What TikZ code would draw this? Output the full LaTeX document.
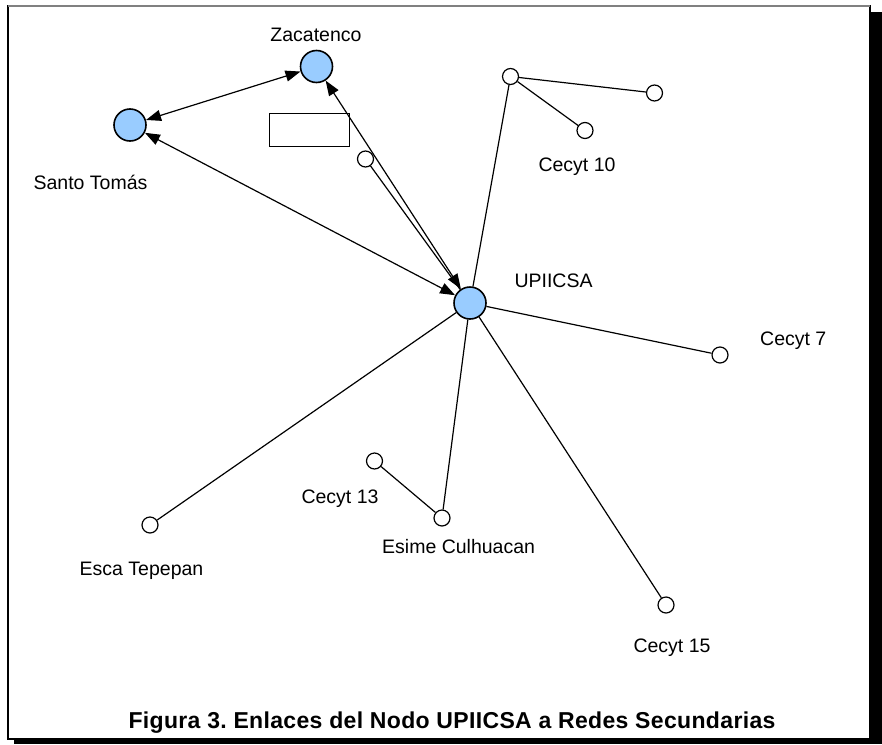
\documentclass[tikz,border=0pt]{standalone}
\usepackage{fontspec}
\setmainfont{Liberation Sans}
\newfontfamily\capfont{Liberation Sans}[LetterSpace=1.5]
\usetikzlibrary{arrows.meta}
\definecolor{nodeblue}{HTML}{99CCFF}
\frenchspacing
\begin{document}
\begin{tikzpicture}[x=1pt,y=-1pt,
  hubnode/.style={circle, draw=black, line width=1.6pt, fill=nodeblue, minimum size=32pt, inner sep=0pt},
  leafnode/.style={circle, draw=black, line width=1.2pt, fill=white, minimum size=16pt, inner sep=0pt},
  lbl/.style={font=\fontsize{19.5}{22}\selectfont, anchor=base, inner sep=0pt},
  link/.style={line width=1.2pt},
  dlink/.style={line width=1.2pt, {Triangle[length=15pt,width=11pt]}-{Triangle[length=15pt,width=11pt]}},
]
\useasboundingbox (0,0) rectangle (882,744);
% frame with shadow
\fill[black] (14,12) rectangle (882,744);
\draw[black, line width=1.5pt, fill=white] (8,6) rectangle (870,739);
\draw[gray, line width=1.5pt] (8,6) -- (870,6);

% nodes
\node[hubnode] (zac) at (316.5,66.5) {};
\node[hubnode] (st) at (130,125) {};
\node[hubnode] (up) at (470,303) {};
\node[leafnode] (s1) at (365.5,159) {};
\node[leafnode] (c10a) at (510.5,76.5) {};
\node[leafnode] (c10b) at (654.5,93) {};
\node[leafnode] (c10c) at (585,130.5) {};
\node[leafnode] (c7) at (720,355) {};
\node[leafnode] (c13) at (374.5,461) {};
\node[leafnode] (es) at (442,518) {};
\node[leafnode] (et) at (150,525) {};
\node[leafnode] (c15) at (666,605) {};
\node[draw, line width=1pt, fill=white, minimum width=80pt, minimum height=33pt, inner sep=0pt] (box) at (309,129.5) {};

% connectors
\draw[dlink] (zac) -- (st);
\draw[dlink] (up) -- (zac);
\draw[dlink] (up) -- (st);
\draw[link] (s1) -- (up);
\draw[link] (up) -- (c10a);
\draw[link] (c10a) -- (c10b);
\draw[link] (c10a) -- (c10c);
\draw[link] (up) -- (c7);
\draw[link] (up) -- (es);
\draw[link] (es) -- (c13);
\draw[link] (up) -- (et);
\draw[link] (up) -- (c15);

% labels
\node[lbl] (lzac) at (316,41.5) {Zacatenco};
\node[lbl] (lst) at (90.5,189.5) {Santo Tomás};
\node[lbl] (lc10) at (577,171) {Cecyt 10};
\node[lbl] (lup) at (553.5,287.7) {UPIICSA};
\node[lbl, anchor=base west] (lc7) at (760,345) {Cecyt 7};
\node[lbl] (lc13) at (340,503.3) {Cecyt 13};
\node[lbl, anchor=base west] (les) at (382,553.3) {Esime Culhuacan};
\node[lbl] (let) at (141.5,575) {Esca Tepepan};
\node[lbl] (lc15) at (672,652) {Cecyt 15};

% caption
\node[font=\capfont\bfseries\fontsize{23}{26}\selectfont, anchor=base, inner sep=0pt] (cap) at (452,728) {Figura 3. Enlaces del Nodo UPIICSA a Redes Secundarias};
\end{tikzpicture}
\end{document}
